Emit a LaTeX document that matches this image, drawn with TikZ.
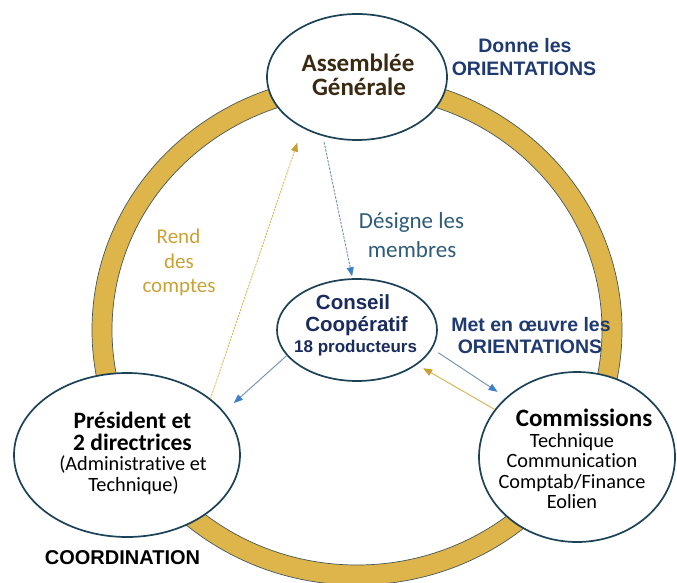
\documentclass[tikz,border=0pt]{standalone}
\usepackage{fontspec}
\setmainfont{Carlito}
\newfontfamily\arialf{Liberation Sans}
\newfontfamily\calf[Ligatures=NoCommon]{Carlito}
\usetikzlibrary{arrows.meta,shapes.geometric}
\definecolor{ringgold}{HTML}{DDB54A}
\definecolor{ringedge}{HTML}{44585A}
\definecolor{elledge}{HTML}{1C4257}
\definecolor{agbrown}{HTML}{3A2A12}
\definecolor{ccnavy}{HTML}{1A2B5E}
\definecolor{orinavy}{HTML}{1F3A70}
\definecolor{desteal}{HTML}{2F5B78}
\definecolor{rendgold}{HTML}{C9A235}
\definecolor{arrblue}{HTML}{3F7FC8}
\definecolor{arrline}{HTML}{7090B0}
\definecolor{goldline}{HTML}{D6B24C}
\definecolor{goldtip}{HTML}{C9A030}
\begin{document}
\begin{tikzpicture}[x=1pt,y=-1pt,
  ell/.style={ellipse, draw=elledge, line width=1.7pt, fill=white, inner sep=0pt},
  txt/.style={anchor=base, inner sep=0pt},
  agfont/.style={txt, font=\calf\bfseries\fontsize{25}{30}\selectfont, text=agbrown},
  ccfont/.style={txt, font=\arialf\bfseries\fontsize{20.5}{24}\selectfont, text=ccnavy},
  ccsmall/.style={txt, font=\arialf\bfseries\fontsize{17}{20}\selectfont, text=ccnavy},
  orifont/.style={txt, font=\arialf\bfseries\fontsize{19.5}{23}\selectfont, text=orinavy},
  desfont/.style={txt, font=\calf\fontsize{23}{27}\selectfont, text=desteal},
  rendfont/.style={txt, font=\calf\fontsize{21}{25}\selectfont, text=rendgold},
  boldblack/.style={txt, font=\calf\bfseries\fontsize{23.5}{27}\selectfont, text=black},
  plainblack/.style={txt, font=\calf\fontsize{20.3}{24}\selectfont, text=black},
  blueconn/.style={draw=arrline, line width=0.9pt, -{Triangle[length=9pt,width=7pt,color=arrblue]}},
  goldconn/.style={draw=goldline, line width=0.9pt, -{Triangle[length=9pt,width=7pt,color=goldtip]}}
]
\useasboundingbox (0,0) rectangle (677,583);
\clip (0,0) rectangle (677,583);
% ring
\fill[ringgold, even odd rule] (357,330) ellipse [x radius=265, y radius=255]
                               (357,330) ellipse [x radius=245, y radius=235];
\draw[ringedge, line width=0.7pt] (357,330) ellipse [x radius=265, y radius=255];
\draw[ringedge, line width=0.7pt] (357,330) ellipse [x radius=245, y radius=235];
% ellipses
\node[ell, minimum width=180pt, minimum height=126pt] (ag) at (357,77) {};
\node[ell, minimum width=160pt, minimum height=102pt] (cc) at (357,330) {};
\node[ell, minimum width=226pt, minimum height=164pt] (pres) at (127,455) {};
\node[ell, minimum width=196pt, minimum height=170pt] (comm) at (577,457) {};
% texts
\node[agfont] (ag1) at (358,71.5) {Assemblée};
\node[agfont] (ag2) at (359,95.5) {Générale};
\node[ccfont] (cc1) at (353,309) {Conseil};
\node[ccfont] (cc2) at (356.5,331) {Coopératif};
\node[ccsmall] (cc3) at (355.6,352.7) {18 producteurs};
\node[orifont] (don1) at (525,53) {Donne les};
\node[orifont] (don2) at (524,76) {ORIENTATIONS};
\node[orifont] (met1) at (531,331) {Met en œuvre les};
\node[orifont] (met2) at (530,353) {ORIENTATIONS};
\node[desfont] (des1) at (411.5,228) {Désigne les};
\node[desfont] (des2) at (412,257) {membres};
\node[rendfont] (rend1) at (178.5,243) {Rend};
\node[rendfont] (rend2) at (179,268) {des};
\node[rendfont] (rend3) at (179,292) {comptes};
\node[boldblack] (p1) at (132.5,428) {Président et};
\node[boldblack] (p2) at (132.5,450) {2 directrices};
\node[plainblack] (p3) at (133,470) {(Administrative et};
\node[plainblack] (p4) at (133.5,491) {Technique)};
\node[txt, font=\arialf\bfseries\fontsize{20}{24}\selectfont] (coord) at (122.5,564) {COORDINATION};
\node[txt, font=\calf\bfseries\fontsize{25}{30}\selectfont] (c0) at (584,426.5) {Commissions};
\node[plainblack] (c1) at (572,447.5) {Technique};
\node[plainblack] (c2) at (572,467.5) {Communication};
\node[plainblack] (c3) at (572,488) {Comptab/Finance};
\node[plainblack] (c4) at (572,508) {Eolien};
% connectors
\draw[blueconn, dash pattern=on 2.5pt off 1.2pt, shorten <=6pt, shorten >=2pt] (ag.240) -- (cc.95);
\draw[goldconn, dash pattern=on 2pt off 1.2pt, shorten >=15.5pt] (pres.34) -- (ag.223);
\draw[blueconn, shorten >=13pt] (cc.200) -- (pres.24);
\draw[blueconn, shorten <=7pt, shorten >=10pt] (cc.346) -- (comm.140);
\draw[goldconn, shorten >=7pt] (comm.150) -- (cc.330);
\end{tikzpicture}
\end{document}
